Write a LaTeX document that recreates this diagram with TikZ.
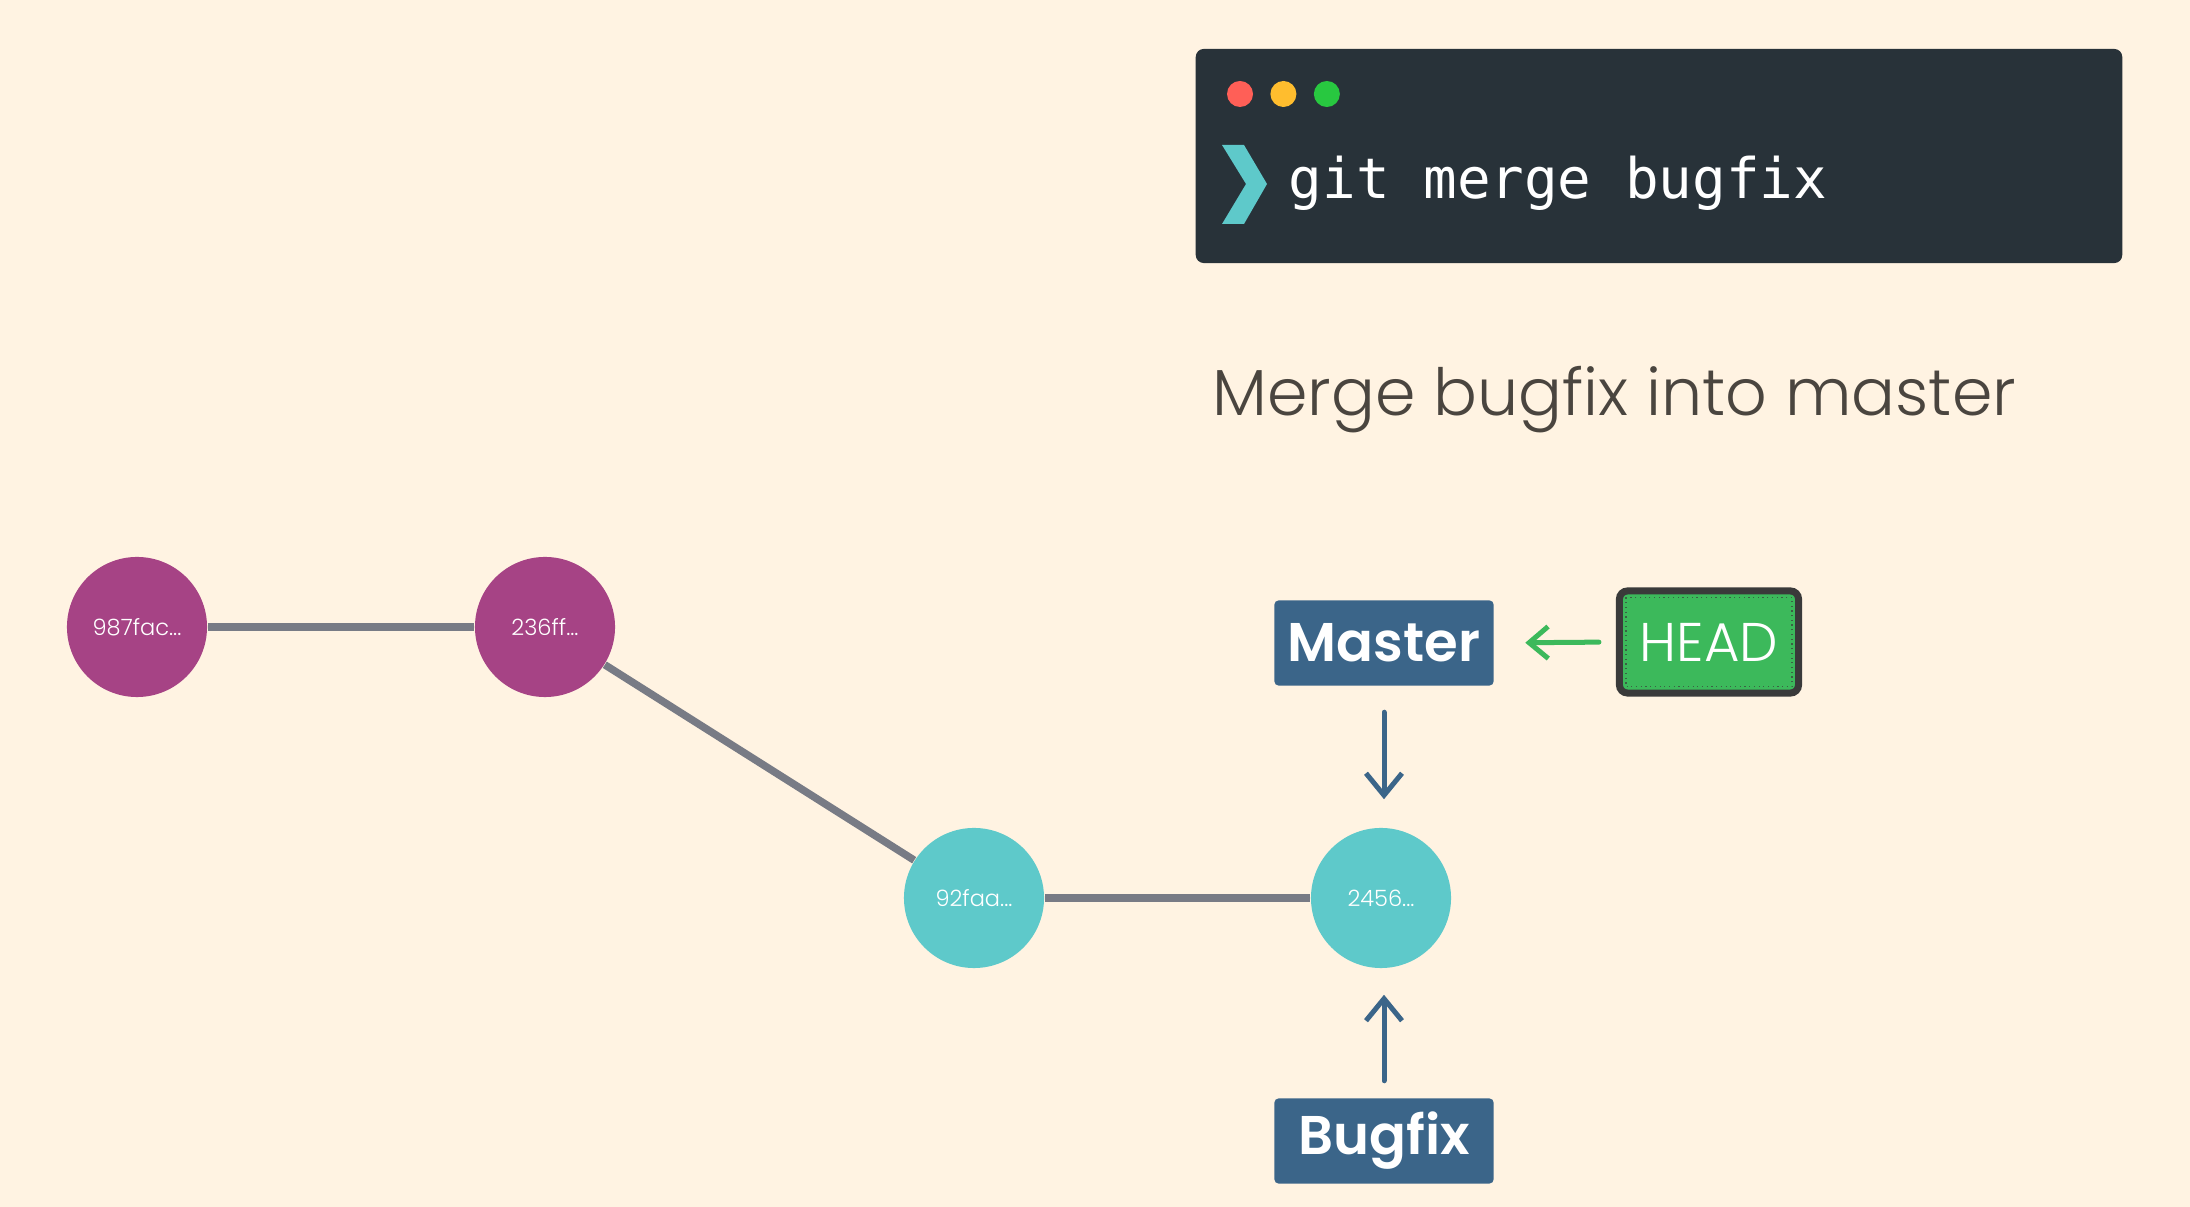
\documentclass[tikz,border=0pt]{standalone}
\usepackage{fontspec}
\setmainfont{Poppins}
\IfFontExistsTF{Poppins Light}{\newfontfamily\thinfont{Poppins Light}}{\newfontfamily\thinfont{Poppins}}
\IfFontExistsTF{Poppins SemiBold}{\newfontfamily\heavyfont{Poppins SemiBold}}{\newfontfamily\heavyfont{Poppins}[BoldFont=*]}
\newfontfamily\termfont{DejaVu Sans Mono}
\usetikzlibrary{positioning,arrows.meta,calc}
\definecolor{paper}{RGB}{255,243,226}
\definecolor{plum}{RGB}{166,67,133}
\definecolor{aqua}{RGB}{94,201,202}
\definecolor{slate}{RGB}{120,123,133}
\definecolor{navy}{RGB}{59,101,137}
\definecolor{leaf}{RGB}{60,185,91}
\definecolor{charcoal}{RGB}{58,58,58}
\definecolor{console}{RGB}{40,50,57}
\definecolor{ink}{RGB}{74,69,63}
\definecolor{dred}{RGB}{255,95,87}
\definecolor{dyellow}{RGB}{255,189,46}
\definecolor{dgreen}{RGB}{40,200,64}
\tikzset{
  commit/.style={circle, minimum size=1.4cm, inner sep=0pt, text=white,
                 font=\thinfont\fontsize{6.4}{8}\selectfont},
  pcommit/.style={commit, fill=plum},
  tcommit/.style={commit, fill=aqua},
  branch/.style={fill=navy, rounded corners=0.04cm, minimum width=2.19cm, minimum height=0.85cm,
                 inner sep=0pt, text=white, font=\heavyfont\fontsize{15.5}{18}\selectfont},
  headbox/.style={draw=charcoal, line width=0.07cm, fill=leaf, rounded corners=0.08cm,
                 minimum width=1.79cm, minimum height=1.02cm, inner sep=0pt, text=white,
                 font=\thinfont\fontsize{15.5}{18}\selectfont},
  light/.style={circle, minimum size=0.26cm, inner sep=0pt},
  link/.style={draw=slate, line width=0.075cm},
  parr/.style={-{Straight Barb[length=0.22cm,width=0.36cm]}, line width=0.05cm, draw=navy, line cap=round},
  harr/.style={-{Straight Barb[length=0.19cm,width=0.32cm]}, line width=0.05cm, draw=leaf, line cap=round},
}
\begin{document}
\begin{tikzpicture}[x=0.01cm, y=-0.01cm]
  \useasboundingbox (0,0) rectangle (2190,1207);
  \fill[paper] (0,0) rectangle (2190,1207);

  \node[fill=console, rounded corners=0.08cm, minimum width=9.26cm, minimum height=2.14cm] (term) at (1659,156) {};
  \node[light, fill=dred] (lamp1) at (1240,94) {};
  \node[light, fill=dyellow, right=0.16cm of lamp1] (lamp2) {};
  \node[light, fill=dgreen, right=0.16cm of lamp2] (lamp3) {};
  \fill[aqua] (1222,145) -- (1244,145) -- (1267,184) -- (1244,224) -- (1222,224) -- (1246,184) -- cycle;
  \node[anchor=base west, inner sep=0pt, text=white, font=\termfont\fontsize{15.9}{18}\selectfont] (cmd) at (1288,199) {git merge bugfix};

  \node[anchor=base west, inner sep=0pt, text=ink, font=\thinfont\fontsize{18.5}{22}\selectfont] (title) at (1212,416) {Merge bugfix into master};

  \node[pcommit] (c1) at (137,627) {987fac...};
  \node[pcommit] (c2) at (545,627) {236ff...};
  \node[tcommit] (c3) at (974,898) {92faa...};
  \node[tcommit] (c4) at (1381,898) {2456...};

  \draw[link] (c1) -- (c2);
  \draw[link] (c2) -- (c3);
  \draw[link] (c3) -- (c4);

  \node[branch] (master) at (1384,643) {Master};
  \node[branch] (bugfix) at (1384,1141) {Bugfix};
  \node[headbox] (head) at (1709,642) {HEAD};
  \draw[densely dotted, draw=charcoal!70!leaf, line width=0.012cm]
    ($(head.north west)+(10,10)$) rectangle ($(head.south east)+(-10,-10)$);

  \draw[harr, shorten <=0.17cm, shorten >=0.31cm] (head.west) -- (master.east);
  \draw[parr, shorten <=0.26cm, shorten >=0.28cm] (master.south) -- (master.south |- c4.north);
  \draw[parr, shorten <=0.17cm, shorten >=0.26cm] (bugfix.north) -- (bugfix.north |- c4.south);
\end{tikzpicture}
\end{document}
